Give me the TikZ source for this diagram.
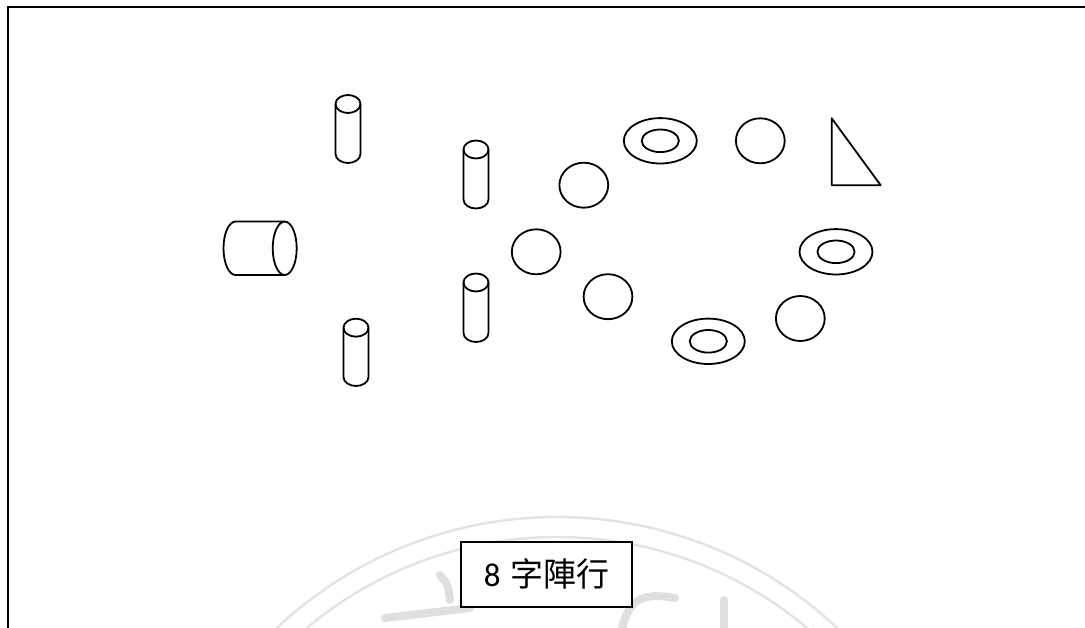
\documentclass[tikz,border=0pt]{standalone}
\usepackage{fontspec}
\newfontfamily\cjkfont{Noto Sans CJK TC}
\newfontfamily\digitfont{Carlito}
\begin{document}
\begin{tikzpicture}[x=1pt,y=-1pt,
  outl/.style={line width=1.8pt, line join=round},
  sealline/.style={gray!22, line width=2.4pt},
  sealblob/.style={gray!25, line width=8pt, line cap=round, line join=round},
  labelbox/.style={draw, line width=1.8pt, minimum width=171pt, minimum height=65pt, inner sep=0pt, font=\fontsize{33}{36}\selectfont},
]
\useasboundingbox (0,0) rectangle (1085,628);
% watermark seal
\begin{scope}
\clip (0,0) rectangle (1085,628);
\draw[sealline] (557,926) ++(225:409) arc[start angle=225, end angle=315, radius=409];
\draw[sealline] (557,926) ++(225:389) arc[start angle=225, end angle=315, radius=389];
\draw[sealblob] (440,575) .. controls (448,585) .. (450,600);
\draw[sealblob] (385,618) -- (470,608);
\draw[sealblob] (622,628) .. controls (630,600) and (640,592) .. (675,598);
\draw[sealblob] (724,600) -- (724,640);
\end{scope}
% frame
\draw[line width=2.5pt] (8,640) -- (8,7) -- (1090,7);
% upright cylinders: cx, top cy, bottom cy
\foreach \cx/\yt/\yb in {348/104/154, 476/149.5/199.5, 476/282.5/333, 356/327.7/377}{
  \draw[outl] (\cx,\yt) ellipse [x radius=12.5, y radius=9];
  \draw[outl] (\cx-12.5,\yt) -- (\cx-12.5,\yb) arc[start angle=180, end angle=0, x radius=12.5, y radius=9] -- (\cx+12.5,\yt);
}
% horizontal cylinder
\draw[outl] (284.7,248.3) ellipse [x radius=12, y radius=26.7];
\draw[outl] (284.7,221.6) -- (235.5,221.6) arc[start angle=270, end angle=90, x radius=12, y radius=26.7] -- (284.7,275);
% circles
\foreach \cx/\cy in {760.3/140.8, 583.8/185.2, 536.2/251.8, 608/296.7, 800.3/318.5}{
  \draw[outl] (\cx,\cy) ellipse [x radius=24.4, y radius=22.5];
}
% washers
\foreach \cx/\cy in {660.3/140.8, 836/251.8, 708.3/341.3}{
  \draw[outl] (\cx,\cy) ellipse [x radius=36.5, y radius=22.7];
  \draw[outl] (\cx,\cy) ellipse [x radius=18.6, y radius=11.3];
}
% triangle
\draw[outl] (831.7,118.3) -- (831.7,185.3) -- (880.7,185.3) -- cycle;
% label
\node[labelbox, fill=white] (lbl) at (546.8,574.2) {{\digitfont 8} {\cjkfont 字陣行}};
\end{tikzpicture}
\end{document}
